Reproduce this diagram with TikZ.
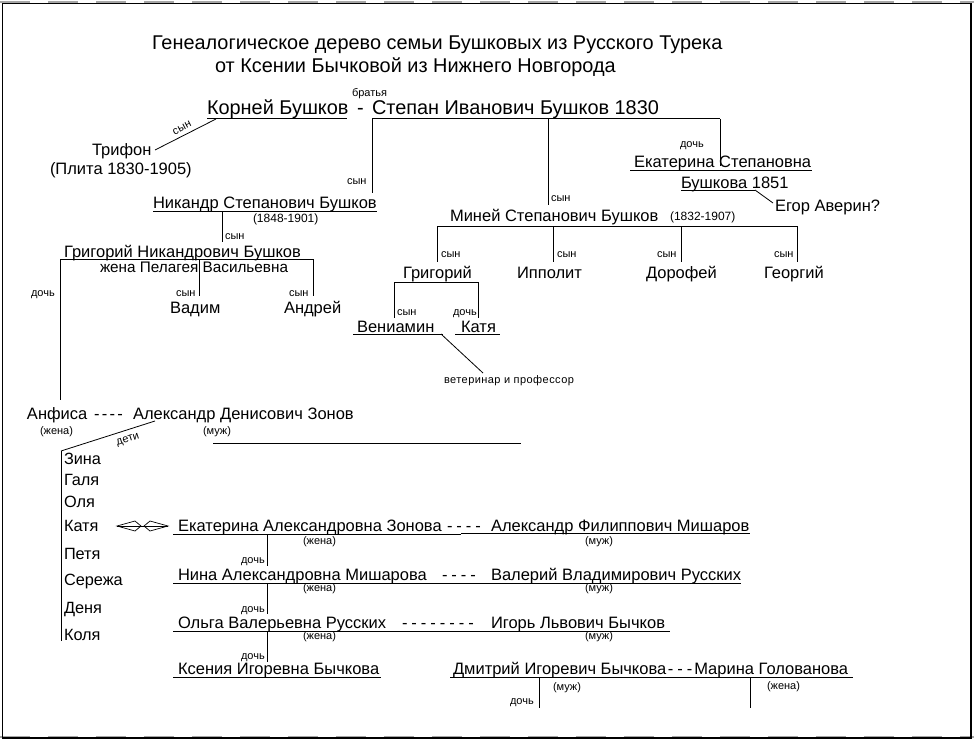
\documentclass[tikz,border=0pt]{standalone}
\usepackage{fontspec}
\setmainfont{Liberation Sans}
\usetikzlibrary{arrows.meta}
\tikzset{
 txt/.style={anchor=base west, inner sep=0pt, outer sep=0pt},
 fxx/.style={txt,font=\fontsize{19.9}{24}\selectfont},
 fname/.style={txt,font=\fontsize{16.5}{20}\selectfont},
 fkid/.style={txt,font=\fontsize{16.3}{19}\selectfont},
 fwife/.style={txt,font=\fontsize{15.3}{18}\selectfont},
 fyear/.style={txt,font=\fontsize{12}{14}\selectfont},
 flab/.style={txt,font=\fontsize{11}{13}\selectfont},
 fvet/.style={txt,font=\fontsize{11}{13}\selectfont\addfontfeature{LetterSpace=4}},
 ln/.style={line width=1pt},
 thinln/.style={line width=0.8pt},
 kiteln/.style={line width=0.7pt, line join=miter},
}
\begin{document}
\begin{tikzpicture}[x=1pt,y=-1pt]
\useasboundingbox (0,0) rectangle (974,741);
% page frame
\draw[gray!70, line width=2pt, dash pattern=on 30pt off 18pt] (0,2) -- (974,2);
\draw[gray!70, line width=2pt, dash pattern=on 30pt off 18pt] (0,737) -- (974,737);
\draw[black, line width=1.5pt] (2.5,3.5) rectangle (971,738);

% title
\node[fxx] (t1) at (152,50) {Генеалогическое дерево семьи Бушковых из Русского Турека};
\node[fxx] (t2) at (215,73) {от Ксении Бычковой из Нижнего Новгорода};

% top generation
\node[flab] (bratya) at (352,97) {братья};
\node[fxx] (korney) at (207,115) {Корней Бушков};
\node[fxx] (dash0) at (357,115) {-};
\node[fxx] (stepan) at (372,115) {Степан Иванович Бушков 1830};
\coordinate (kL) at (207,119); \coordinate (kR) at (347,119);
\draw[ln] (kL) -- (kR);
\coordinate (sL) at (372,119); \coordinate (sM) at (548,119); \coordinate (sR) at (720,119);
\draw[ln] (sL) -- (sR);

% Trifon
\node[fname] (trifon) at (92,156) {Трифон};
\node[fname] (plita) at (50,174) {(Плита 1830-1905)};
\coordinate (kT) at (216,119); \coordinate (tE) at (155,150);
\draw[thinln] (kT) -- (tE);
\node[flab, anchor=center, rotate=27] (lt) at (182,128) {сын};

% Nikandr
\coordinate (nTop) at (372,193);
\draw[ln] (sL) -- (nTop);
\node[flab] (ln1) at (347,184) {сын};
\node[fname] (nik) at (153,208) {Никандр Степанович Бушков};
\draw[ln] (153,211) -- (377,211);
\node[fyear] (nikY) at (253,222) {(1848-1901)};
\coordinate (nD) at (222,211); \coordinate (gTop) at (222,242);
\draw[ln] (nD) -- (gTop);
\node[flab] (ln2) at (225,239) {сын};

% Grigoriy Nikandrovich
\node[fname] (grigN) at (64,257) {Григорий Никандрович Бушков};
\coordinate (gL) at (60,259); \coordinate (gM) at (199,259); \coordinate (gR) at (313,259);
\draw[ln] (gL) -- (gR);
\node[fwife] (zhena) at (100,272) {жена Пелагея Васильевна};
\coordinate (vT) at (199,296); \coordinate (aT) at (313,296); \coordinate (anfT) at (60,400);
\draw[ln] (gM) -- (vT);
\draw[ln] (gR) -- (aT);
\draw[ln] (gL) -- (anfT);
\node[flab] (ld1) at (31,296) {дочь};
\node[flab] (ls1) at (176,296) {сын};
\node[flab] (ls2) at (289,296) {сын};
\node[fname] (vadim) at (170,313) {Вадим};
\node[fname] (andrei) at (284,313) {Андрей};

% Ekaterina Stepanovna
\coordinate (eTop) at (720,166);
\draw[ln] (sR) -- (eTop);
\node[flab] (ld2) at (680,147) {дочь};
\node[fname] (ekat) at (634,167) {Екатерина Степановна};
\draw[ln] (630,170) -- (812,170);
\node[fname] (ekat2) at (681,188) {Бушкова 1851};
\coordinate (e2L) at (681,190); \coordinate (e2R) at (755,190); \coordinate (egE) at (773,203);
\draw[ln] (e2L) -- (e2R);
\draw[thinln] (e2R) -- (egE);
\node[fname] (egor) at (775,211) {Егор Аверин?};

% Miney
\coordinate (mTop) at (548,205);
\draw[ln] (sM) -- (mTop);
\node[flab] (ls3) at (551,201) {сын};
\node[fname] (minei) at (450,221) {Миней Степанович Бушков};
\node[fyear] (mineiY) at (670,220) {(1832-1907)};
\coordinate (m1) at (437,226); \coordinate (m2) at (553,226); \coordinate (m3) at (681,226); \coordinate (m4) at (797,226);
\draw[ln] (m1) -- (m4);
\draw[ln] (m1) -- (437,262);
\draw[ln] (m2) -- (553,262);
\draw[ln] (m3) -- (681,262);
\draw[ln] (m4) -- (797,262);
\node[flab] at (441,257) {сын};
\node[flab] at (557,257) {сын};
\node[flab] at (657,257) {сын};
\node[flab] at (774,257) {сын};
\node[fname] (grigM) at (403,278) {Григорий};
\node[fname] (ipp) at (517,278) {Ипполит};
\node[fname] (dor) at (646,278) {Дорофей};
\node[fname] (geo) at (764,278) {Георгий};
\coordinate (gmL) at (394,282); \coordinate (gmR) at (478,282);
\draw[ln] (gmL) -- (gmR);
\draw[ln] (gmL) -- (394,318);
\draw[ln] (gmR) -- (478,318);
\node[flab] at (397,315) {сын};
\node[flab] at (453,315) {дочь};
\node[fname] (ven) at (357,332) {Вениамин};
\coordinate (vR) at (441,334);
\draw[ln] (353,334) -- (443,334);
\node[fname] (katya) at (461,332) {Катя};
\draw[ln] (455,334) -- (500,334);
\coordinate (vetT) at (483,373);
\draw[thinln] (vR) -- (vetT);
\node[fvet] (vet) at (444,383) {ветеринар и профессор};

% Anfisa
\node[fname] (anf) at (27,419) {Анфиса};
\node[fname] (d1) at (94,419) {-\kern2.3pt-\kern2.3pt-\kern2.3pt-};
\node[fname] (zonov) at (133,419) {Александр Денисович Зонов};
\node[flab] at (40,434) {(жена)};
\node[flab] at (203,434) {(муж)};
\draw[ln] (213,443) -- (521,443);
\coordinate (zD) at (155,421); \coordinate (kidTop) at (61,451); \coordinate (kidBot) at (61,641);
\draw[thinln] (zD) -- (kidTop);
\draw[ln] (kidTop) -- (kidBot);
\node[flab, anchor=center, rotate=18] at (128,440) {дети};

\node[fkid] (c1) at (64,464) {Зина};
\node[fkid] (c2) at (64,485) {Галя};
\node[fkid] (c3) at (64,507) {Оля};
\node[fkid] (c4) at (64,531) {Катя};
\node[fkid] (c5) at (64,559) {Петя};
\node[fkid] (c6) at (64,585) {Сережа};
\node[fkid] (c7) at (64,613) {Деня};
\node[fkid] (c8) at (64,640) {Коля};

% double arrow Katya <-> Ekaterina
\coordinate (arL) at (117,526); \coordinate (arR) at (168,526);
\draw[kiteln] (arL) -- (arR);
\draw[kiteln] (arL) -- (135,521) -- (141,526) -- (135,531) -- cycle;
\draw[kiteln] (arR) -- (150,521) -- (144,526) -- (150,531) -- cycle;

% Ekaterina Aleksandrovna row
\node[fname] (ekz) at (178,531) {Екатерина Александровна Зонова};
\node[fname] at (447,531) {-\kern4pt-\kern4pt-\kern4pt-};
\node[fname] (afm) at (491,531) {Александр Филиппович Мишаров};
\draw[ln] (173,534) -- (461,534);
\draw[ln] (461,533) -- (750,533);
\node[flab] at (303,544) {(жена)};
\node[flab] at (585,544) {(муж)};
\coordinate (r1) at (267,534); \coordinate (r1b) at (267,566);
\draw[thinln] (r1) -- (r1b);
\node[flab] at (241,563) {дочь};

% Nina row
\node[fname] (nina) at (178,580) {Нина Александровна Мишарова};
\node[fname] at (442,580) {-\kern4pt-\kern4pt-\kern4pt-};
\node[fname] (vvr) at (491,580) {Валерий Владимирович Русских};
\draw[ln] (173,583) -- (741,583);
\node[flab] at (303,591) {(жена)};
\node[flab] at (585,591) {(муж)};
\coordinate (r2) at (267,583); \coordinate (r2b) at (267,614);
\draw[thinln] (r2) -- (r2b);
\node[flab] at (241,612) {дочь};

% Olga row
\node[fname] (olga) at (178,628) {Ольга Валерьевна Русских};
\node[fname] at (402,628) {-\kern4pt-\kern4pt-\kern4pt-\kern4pt-\kern4pt-\kern4pt-\kern4pt-};
\node[fname] (ilb) at (491,628) {Игорь Львович Бычков};
\draw[ln] (173,631) -- (670,631);
\node[flab] at (303,639) {(жена)};
\node[flab] at (585,639) {(муж)};
\coordinate (r3) at (267,631); \coordinate (r3b) at (267,662);
\draw[thinln] (r3) -- (r3b);
\node[flab] at (241,659) {дочь};

% Kseniya row
\node[fname] (ks) at (178,674) {Ксения Игоревна Бычкова};
\draw[ln] (173,677) -- (381,677);
\node[fname] (dm) at (453,674) {Дмитрий Игоревич Бычкова\kern1.5pt-\kern4pt-\kern4pt-\kern2pt Марина Голованова};
\draw[ln] (450,677) -- (853,677);
\node[flab] at (553,690) {(муж)};
\node[flab] at (767,689) {(жена)};
\coordinate (b1) at (539,677); \coordinate (b1b) at (539,708);
\coordinate (b2) at (750,677); \coordinate (b2b) at (750,708);
\draw[thinln] (b1) -- (b1b);
\draw[thinln] (b2) -- (b2b);
\node[flab] at (510,704) {дочь};
\end{tikzpicture}
\end{document}
